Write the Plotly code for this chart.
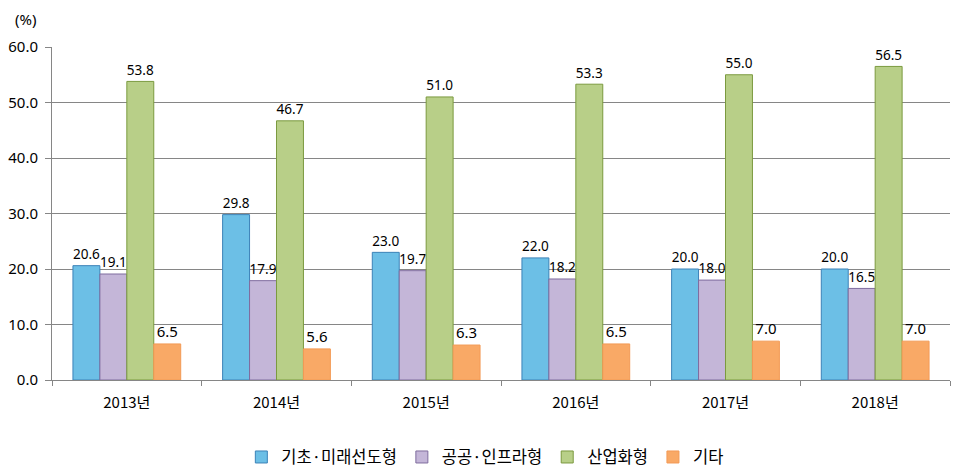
import plotly.graph_objects as go

years = ["2013년", "2014년", "2015년", "2016년", "2017년", "2018년"]
series_names = ["기초·미래선도형", "공공·인프라형", "산업화형", "기타"]
basic = [20.6, 29.8, 23.0, 22.0, 20.0, 20.0]
public = [19.1, 17.9, 19.7, 18.2, 18.0, 16.5]
industry = [53.8, 46.7, 51.0, 53.3, 55.0, 56.5]
other = [6.5, 5.6, 6.3, 6.5, 7.0, 7.0]
y_ticks = [0, 10, 20, 30, 40, 50, 60]

fills = ["#6cbfe6", "#c4b6d8", "#b8cf88", "#f9a966"]
lines = ["#3c82b8", "#7f6c9e", "#7b9a3f", "#f39a55"]

fig = go.Figure()
for name, vals, fc, lc in zip(series_names, [basic, public, industry, other], fills, lines):
    fig.add_trace(go.Bar(
        x=years, y=vals, name=name,
        marker=dict(color=fc, line=dict(color=lc, width=1)),
        text=[f"{v:.1f}" for v in vals], textposition="outside",
        textfont=dict(family="Noto Sans, sans-serif", size=15, color="#000000"),
        cliponaxis=False,
    ))

fig.update_layout(
    width=964, height=476,
    margin=dict(l=52, r=14, t=47, b=96, autoexpand=False),
    paper_bgcolor="white", plot_bgcolor="white",
    barmode="group", bargap=0.28, bargroupgap=0,
    font=dict(family="Noto Sans CJK KR, Noto Sans, sans-serif", size=14, color="#000000"),
    showlegend=True,
    legend=dict(orientation="h", x=0.482, xanchor="center", y=-0.232, yanchor="middle",
                font=dict(family="Noto Sans CJK KR", size=16.5), itemwidth=30,
                traceorder="normal", tracegroupgap=0),
    xaxis=dict(showline=True, linecolor="#868686", ticks="outside", tickson="boundaries",
               ticklen=5, tickcolor="#868686", showgrid=False, automargin=False,
               ticklabelstandoff=9,
               tickfont=dict(family="Noto Sans CJK KR", size=15)),
    yaxis=dict(range=[0, 60], tickvals=y_ticks, tickformat=".1f", showline=True,
               linecolor="#868686", ticks="outside", ticklen=6, tickcolor="#868686",
               showgrid=True, gridcolor="#868686", gridwidth=1, zeroline=False,
               automargin=False, ticklabelstandoff=4,
               tickfont=dict(family="Noto Sans", size=15)),
    annotations=[dict(text="(%)", xref="paper", yref="paper", x=-0.030, y=1.048,
                      xanchor="center", yanchor="bottom", showarrow=False,
                      font=dict(family="Noto Sans", size=15))],
)

fig.write_html("out.html", config={"displayModeBar": False},
               post_script="document.body.style.margin='0';document.body.style.padding='0';")
